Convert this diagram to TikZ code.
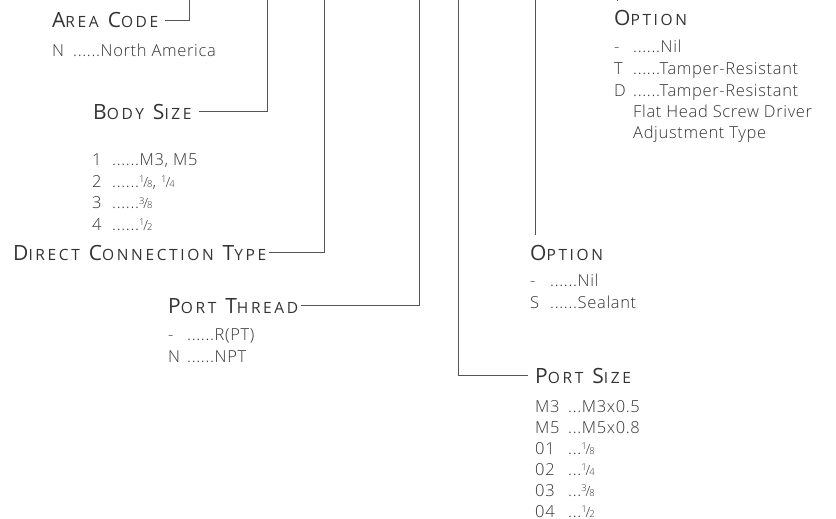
\documentclass[tikz,border=0pt]{standalone}
\usepackage{fontspec}
\setmainfont{Open Sans}[UprightFont=* Light, LetterSpace=4]
\newfontfamily\headfont{Open Sans}[LetterSpace=17]
\usetikzlibrary{positioning}
\definecolor{txt}{HTML}{333333}
\definecolor{ln}{HTML}{555555}
\newcommand{\capsc}[2]{{\fontsize{21}{21}\selectfont #1}{\fontsize{15.5}{15.5}\selectfont #2}}
\newcommand{\wsp}{\hspace{9pt}}
\newcommand{\frc}[2]{\raisebox{4.5pt}{\fontsize{9.5}{9.5}\selectfont #1}\kern-1pt{\fontsize{14}{14}\selectfont/}\kern-1pt{\fontsize{9.5}{9.5}\selectfont #2}}
\newcommand{\ent}[3][20pt]{\makebox[#1][l]{#2}#3}

\begin{document}
\begin{tikzpicture}[x=1pt, y=-1pt,
  head/.style={inner sep=0pt, anchor=base west, font=\headfont, text=txt},
  lst/.style={inner sep=0pt, anchor=base west, align=left,
    font=\fontsize{16.5}{21.5}\selectfont, text=txt},
  lead/.style={draw=ln, line width=0.8pt}]
  \useasboundingbox (0,0) rectangle (836,519);

  % lists are placed by the baseline of their last line
  \node[head] (area) at (52,28) {\capsc{A}{REA}\wsp\capsc{C}{ODE}};
  \node[lst] (arealist) at (52,57) {\ent[21pt]{N}{......North America}};

  \node[head] (body) at (93,119) {\capsc{B}{ODY}\wsp\capsc{S}{IZE}};
  \node[lst] (bodylist) at (92,230) {\ent{1}{......M3, M5}\\
    \ent{2}{......\frc18, \frc14}\\
    \ent{3}{......\frc38}\\
    \ent{4}{......\frc12}};

  \node[head] (direct) at (13,260) {\capsc{D}{IRECT}\wsp\capsc{C}{ONNECTION}\wsp\capsc{T}{YPE}};

  \node[head] (thread) at (168,313) {\capsc{P}{ORT}\wsp\capsc{T}{HREAD}};
  \node[lst] (threadlist) at (168,362) {\ent[19pt]{-}{......R(PT)}\\
    \ent[19pt]{N}{......NPT}};

  \node[head] (psize) at (535,383) {\capsc{P}{ORT}\wsp\capsc{S}{IZE}};
  \node[lst, font=\fontsize{16.5}{21}\selectfont] (psizelist) at (535,517)
    {\ent[33pt]{M3}{...M3x0.5}\\
    \ent[33pt]{M5}{...M5x0.8}\\
    \ent[33pt]{01}{...\frc18}\\
    \ent[33pt]{02}{...\frc14}\\
    \ent[33pt]{03}{...\frc38}\\
    \ent[33pt]{04}{...\frc12}};

  \node[head] (seal) at (530,260) {\capsc{O}{PTION}};
  \node[lst] (seallist) at (530,308) {\ent{-}{......Nil}\\
    \ent{S}{......Sealant}};

  \node[head] (tamper) at (614,26) {\capsc{O}{PTION}};
  \node[lst] (tamperlist) at (614,139) {\ent[19pt]{-}{......Nil}\\
    \ent[19pt]{T}{......Tamper-Resistant}\\
    \ent[19pt]{D}{......Tamper-Resistant}\\
    \ent[19pt]{}{Flat Head Screw Driver}\\
    \ent[19pt]{}{Adjustment Type}};

  \coordinate (areatop) at (189,0);
  \coordinate (bodytop) at (267,0);
  \coordinate (directtop) at (324,0);
  \coordinate (threadtop) at (419,0);
  \coordinate (psizetop) at (458,0);
  \coordinate (sealtop) at (535,0);
  \coordinate (tampertop) at (617,0);

  \draw[lead] ([xshift=7pt]area.east) -| (areatop);
  \draw[lead] ([xshift=7pt]body.east) -| (bodytop);
  \draw[lead] ([xshift=3pt]direct.east) -| (directtop);
  \draw[lead] ([xshift=3pt]thread.east) -| (threadtop);
  \draw[lead] ([xshift=-7pt]psize.west) -| (psizetop);
  \draw[lead] ([shift={(5pt,10pt)}]seal.north west) -- (sealtop);
  \draw[lead] ([shift={(3pt,10pt)}]tamper.north west) -- (tampertop);
\end{tikzpicture}
\end{document}
